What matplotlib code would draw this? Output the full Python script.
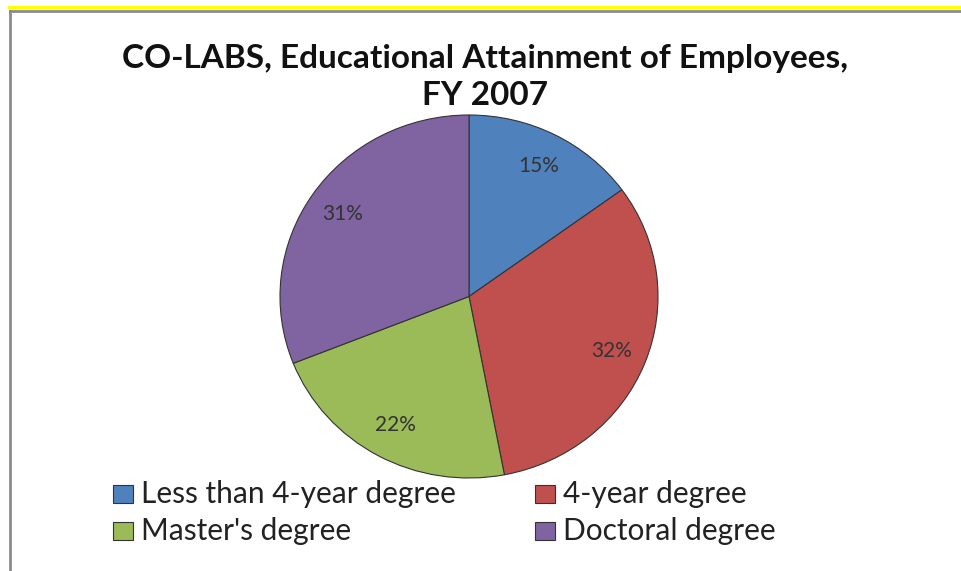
import matplotlib.pyplot as plt
from matplotlib.patches import Rectangle
from matplotlib.lines import Line2D

categories = ["Less than 4-year degree", "4-year degree", "Master's degree", "Doctoral degree"]
shares = [15, 32, 22, 31]
colors = ["#4F81BD", "#C0504D", "#9BBB59", "#8064A2"]
title = "CO-LABS, Educational Attainment of Employees,\nFY 2007"

plt.rcParams['font.family'] = ['Lato', 'DejaVu Sans']

fig = plt.figure(figsize=(9.61, 5.71), dpi=100)
W, H = 961, 571

# frame decoration: yellow rule and grey border
fig.add_artist(Line2D([9 / W, 1], [1 - 7 / H, 1 - 7 / H], color="#FFFF00", lw=2.5, transform=fig.transFigure))
fig.add_artist(Line2D([10 / W, 1], [1 - 11 / H, 1 - 11 / H], color="#8c8c8c", lw=2, transform=fig.transFigure))
fig.add_artist(Line2D([10 / W, 10 / W], [1 - 11 / H, 0], color="#8c8c8c", lw=2, transform=fig.transFigure))

# pie area (slightly stretched horizontally like the source)
ax = fig.add_axes([280 / W, (H - 478) / H, 378 / W, 363 / H])
wedges, texts = ax.pie(shares, colors=colors, startangle=90, counterclock=False,
                       labels=[f"{v}%" for v in shares], labeldistance=0.81,
                       wedgeprops=dict(edgecolor="#333333", linewidth=0.8, clip_on=False),
                       textprops=dict(fontsize=15, color="#333333"))
for t in texts:
    t.set_horizontalalignment("center")
    t.set_verticalalignment("center")
ax.set_aspect("auto")
ax.set_xlim(-1, 1)
ax.set_ylim(-1, 1)
ax.axis("off")

fig.text(485 / W, 1 - 77 / H, title, ha="center", va="center", fontsize=24,
         fontweight="bold", color="#111111", linespacing=1.32)

# legend drawn by hand, two columns filled row by row
col_x = [113, 535]
row_y = [494, 531]
for i, (cat, c) in enumerate(zip(categories, colors)):
    x = col_x[i % 2]
    y = row_y[i // 2]
    fig.add_artist(Rectangle((x / W, (H - y - 9) / H), 20 / W, 18 / H, facecolor=c,
                             edgecolor="#333333", linewidth=0.8, transform=fig.transFigure))
    fig.text((x + 28) / W, 1 - y / H, cat, ha="left", va="center", fontsize=21.5, color="#222222")

fig.savefig("out.png", dpi=100, facecolor="white")
